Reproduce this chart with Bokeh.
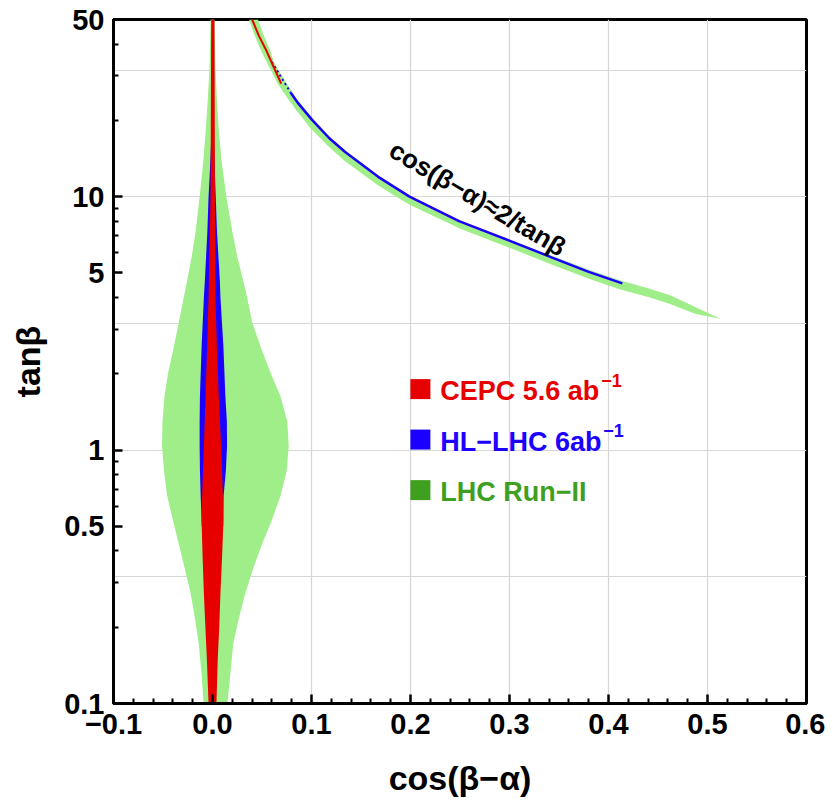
from bokeh.plotting import figure
from bokeh.models import FixedTicker, Range1d
from bokeh.embed import file_html
from bokeh.resources import INLINE
from bokeh.core.properties import value

# ---------------- data ----------------
x_ticks = [-0.1, 0.0, 0.1, 0.2, 0.3, 0.4, 0.5, 0.6]
x_tick_labels = ["\u22120.1", "0.0", "0.1", "0.2", "0.3", "0.4", "0.5", "0.6"]
x_minor = [-0.08, -0.06, -0.04, -0.02, 0.02, 0.04, 0.06, 0.08, 0.12, 0.14, 0.16, 0.18,
           0.22, 0.24, 0.26, 0.28, 0.32, 0.34, 0.36, 0.38, 0.42, 0.44, 0.46, 0.48,
           0.52, 0.54, 0.56, 0.58]
y_ticks = [0.1, 0.5, 1, 5, 10, 50]
y_tick_labels = ["0.1", "0.5", "1", "5", "10", "50"]
y_minor = [0.2, 0.3, 0.4, 0.6, 0.7, 0.8, 0.9, 2, 3, 4, 6, 7, 8, 9, 20, 30, 40]
x_grid = [0.0, 0.1, 0.2, 0.3, 0.4, 0.5]
y_grid = [0.316, 1.0, 3.16, 10.0, 31.6]

# LHC Run-II, central region (tan beta, left edge, right edge)
lhc_tb = [0.1, 0.13, 0.173, 0.22, 0.271, 0.34, 0.425, 0.53, 0.665, 0.83, 1.04, 1.3, 1.63, 2.0, 2.56, 3.2, 4.01, 4.67, 5.8, 7.3, 10, 13.5, 17.9, 24, 32.5, 50]
lhc_xl = [-0.009, -0.011, -0.014, -0.018, -0.022, -0.028, -0.034, -0.040, -0.046, -0.049, -0.051, -0.0505, -0.0485, -0.045, -0.039, -0.034, -0.029, -0.0256, -0.021, -0.017, -0.013, -0.0095, -0.007, -0.0048, -0.003, -0.002]
lhc_xr = [0.015, 0.018, 0.021, 0.027, 0.033, 0.041, 0.050, 0.060, 0.069, 0.075, 0.077, 0.0755, 0.0687, 0.059, 0.0485, 0.040, 0.035, 0.031, 0.025, 0.020, 0.014, 0.0095, 0.0065, 0.0045, 0.003, 0.002]

# HL-LHC, central region
hl_tb = [0.5, 0.665, 0.83, 1.04, 1.3, 1.63, 2.56, 4.01, 4.67, 7.3, 10, 13, 17.3]
hl_xl = [-0.0108, -0.012, -0.0127, -0.013, -0.013, -0.0127, -0.011, -0.0087, -0.0077, -0.0052, -0.004, -0.0025, -0.0012]
hl_xr = [0.0108, 0.0113, 0.0135, 0.0147, 0.0145, 0.013, 0.011, 0.008, 0.0074, 0.0045, 0.0033, 0.0022, 0.0012]

# CEPC, central region
cepc_tb = [0.1, 0.15, 0.2, 0.271, 0.38, 0.52, 0.665, 1.04, 1.63, 2.5, 4.01, 10, 50]
cepc_xl = [-0.004, -0.0057, -0.0072, -0.0087, -0.010, -0.011, -0.0105, -0.0087, -0.007, -0.0055, -0.004, -0.002, -0.0013]
cepc_xr = [0.004, 0.0053, 0.0068, 0.008, 0.0097, 0.011, 0.0105, 0.0087, 0.0063, 0.0045, 0.003, 0.0025, 0.002]

# LHC Run-II, wrong-sign branch: upper edge (top -> tip) and lower edge (tip -> top)
ws_up_x = [0.046, 0.052, 0.058, 0.062, 0.070, 0.081, 0.088, 0.103, 0.120, 0.136, 0.169, 0.201, 0.251, 0.304, 0.345, 0.383, 0.412, 0.440, 0.463, 0.488, 0.513]
ws_up_tb = [50, 43, 38, 34, 30, 25.7, 23.5, 20, 17, 15, 12, 10, 8, 6.68, 5.8, 5.1, 4.67, 4.35, 4.07, 3.66, 3.30]
ws_lo_x = [0.513, 0.488, 0.463, 0.440, 0.412, 0.383, 0.345, 0.304, 0.251, 0.199, 0.167, 0.133, 0.117, 0.099, 0.085, 0.078, 0.066, 0.059, 0.053, 0.046, 0.040, 0.037]
ws_lo_tb = [3.30, 3.44, 3.76, 4.02, 4.30, 4.70, 5.35, 6.2, 7.45, 9.3, 11.1, 13.9, 15.8, 18.6, 21.8, 23.8, 27.8, 31.5, 35, 40, 46, 50]

# HL-LHC wrong-sign branch (line)
ws_hl_x = [0.079, 0.086, 0.101, 0.118, 0.134, 0.167, 0.199, 0.249, 0.301, 0.343, 0.380, 0.414]
ws_hl_tb = [25.7, 23.5, 20, 17, 15, 12, 10, 8, 6.68, 5.75, 5.05, 4.55]
ws_hl_dot_x = [0.060, 0.079]
ws_hl_dot_tb = [34, 25.7]
# CEPC wrong-sign branch (short line)
ws_cepc_x = [0.040, 0.047, 0.054, 0.061, 0.0694]
ws_cepc_tb = [50, 43, 38, 33, 27.9]

legend_labels = ["CEPC 5.6 ab", "HL\u2212LHC 6ab", "LHC Run\u2212II"]
legend_sups = ["\u22121", "\u22121", ""]
legend_x = [0.210, 0.210, 0.210]
legend_tb = [1.74, 1.10, 0.695]

curve_label = "cos(\u03b2\u2212\u03b1)\u22482/tan\u03b2"
curve_label_x = [0.268]
curve_label_tb = [9.84]

# ---------------- styles ----------------
RED = "#e60000"
BLUE = "#1c00ff"
GREEN_FILL = "#9fee8a"
GREEN_TXT = "#3f9f1f"
FONT = "Liberation Sans"

p = figure(width=825, height=799, x_range=Range1d(-0.1, 0.6), y_range=Range1d(0.1, 50),
           y_axis_type="log", output_backend="svg", toolbar_location=None,
           min_border_left=113, min_border_right=19, min_border_top=19, min_border_bottom=88)
p.background_fill_color = "white"
p.border_fill_color = "white"
p.outline_line_color = "black"
p.outline_line_width = 3

# grid
p.xgrid.ticker = FixedTicker(ticks=x_grid)
p.ygrid.ticker = FixedTicker(ticks=y_grid)
for g in (p.xgrid, p.ygrid):
    g.grid_line_color = "#d6d6d6"
    g.grid_line_width = 1.2

# axes
p.xaxis.ticker = FixedTicker(ticks=x_ticks, minor_ticks=x_minor)
p.xaxis.major_label_overrides = dict(zip(x_ticks, x_tick_labels))
p.yaxis.ticker = FixedTicker(ticks=y_ticks, minor_ticks=y_minor)
p.yaxis.major_label_overrides = dict(zip(y_ticks, y_tick_labels))
for ax in (p.xaxis, p.yaxis):
    ax.axis_line_width = 3
    ax.axis_line_color = "black"
    ax.major_tick_in = 9
    ax.major_tick_out = 0
    ax.minor_tick_in = 5
    ax.minor_tick_out = 0
    ax.major_tick_line_width = 2.5
    ax.minor_tick_line_width = 2
    ax.major_label_text_font = FONT
    ax.major_label_text_font_style = "bold"
    ax.major_label_text_font_size = "29px"
    ax.major_label_text_color = "black"
    ax.axis_label_text_font = FONT
    ax.axis_label_text_font_style = "bold"
    ax.axis_label_text_font_size = "34px"
    ax.axis_label_text_color = "black"
p.xaxis.axis_label = "cos(\u03b2\u2212\u03b1)"
p.yaxis.axis_label = "tan\u03b2"
p.xaxis.major_label_standoff = 10
p.yaxis.major_label_standoff = 9
p.xaxis.axis_label_standoff = 22
p.yaxis.axis_label_standoff = 14

# bands
p.patch(lhc_xl + lhc_xr[::-1], lhc_tb + lhc_tb[::-1], fill_color=GREEN_FILL, line_color=None)
p.patch(ws_up_x + ws_lo_x, ws_up_tb + ws_lo_tb, fill_color=GREEN_FILL, line_color=None)
p.patch(hl_xl + hl_xr[::-1], hl_tb + hl_tb[::-1], fill_color=BLUE, line_color=None)
p.patch(cepc_xl + cepc_xr[::-1], cepc_tb + cepc_tb[::-1], fill_color=RED, line_color=None)
p.line(ws_hl_x, ws_hl_tb, line_color=BLUE, line_width=2.5)
p.line(ws_hl_dot_x, ws_hl_dot_tb, line_color=BLUE, line_width=2, line_dash="2 3")
p.line(ws_cepc_x, ws_cepc_tb, line_color=RED, line_width=2)

# curve label
p.text(curve_label_x, curve_label_tb, text=[curve_label], angle=-0.534,
       text_align="center", text_baseline="middle", text_font=value(FONT),
       text_font_style="bold", text_font_size="26px", text_color="black")

# legend
legend_colors = [RED, BLUE, GREEN_TXT]
p.scatter(legend_x, legend_tb, marker="square", size=20, fill_color=legend_colors, line_color=None)
p.text([x + 0.020 for x in legend_x], legend_tb, text=legend_labels, text_color=legend_colors,
       text_align="left", text_baseline="middle", text_font=value(FONT),
       text_font_style="bold", text_font_size="27px", y_offset=2)
p.text([x + 0.020 for x in legend_x], legend_tb, text=legend_sups, text_color=legend_colors,
       text_align="left", text_baseline="middle", text_font=value(FONT),
       text_font_style="bold", text_font_size="18px", x_offset=[161, 163, 0], y_offset=-9)

open("out.html", "w").write(file_html(p, INLINE))
